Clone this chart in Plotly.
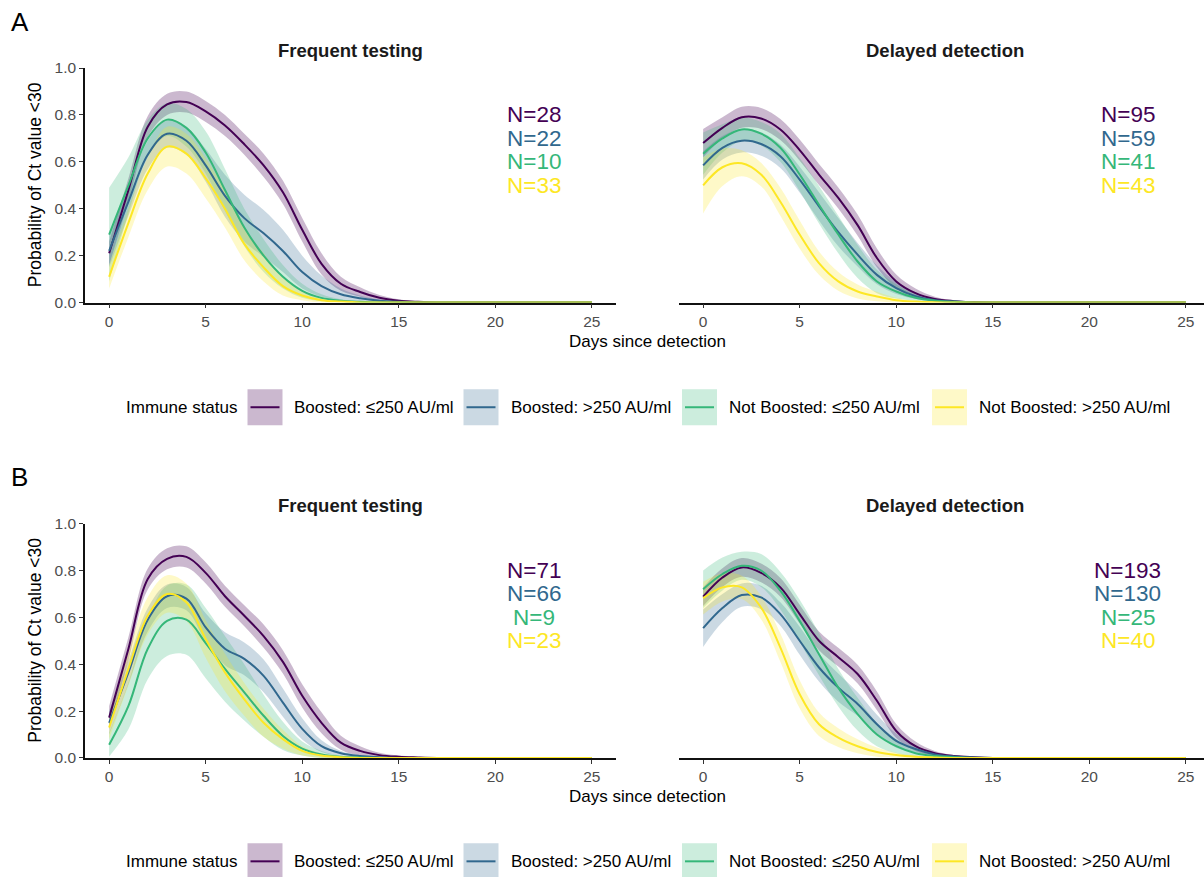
import plotly.graph_objects as go

W, H = 1204, 877
FONT = "Liberation Sans, Arial, Helvetica, sans-serif"

days = list(range(26))
groups = ["Boosted: ≤250 AU/ml", "Boosted: >250 AU/ml",
          "Not Boosted: ≤250 AU/ml", "Not Boosted: >250 AU/ml"]
colors = ["#440154", "#31688E", "#35B779", "#FDE725"]
fills = ["rgba(68,1,84,0.28)", "rgba(49,104,142,0.25)",
         "rgba(53,183,121,0.25)", "rgba(253,231,37,0.25)"]
panel_titles = ["Frequent testing", "Delayed detection"]
x_ticks = [0, 5, 10, 15, 20, 25]
y_ticks = [0.0, 0.2, 0.4, 0.6, 0.8, 1.0]


def pad(v):
    return v + [0.0] * (len(days) - len(v))


# ---------- Panel A, Frequent testing ----------
a_freq_b_low = pad([0.21, 0.48, 0.75, 0.845, 0.855, 0.815, 0.755, 0.675, 0.585, 0.47, 0.31, 0.165, 0.08, 0.045, 0.02, 0.008, 0.003])
a_freq_b_low_hw = pad([0.05, 0.05, 0.045, 0.045, 0.045, 0.045, 0.045, 0.045, 0.05, 0.05, 0.05, 0.045, 0.03, 0.02, 0.012, 0.006, 0.003])
a_freq_b_high = pad([0.22, 0.43, 0.63, 0.72, 0.69, 0.585, 0.455, 0.36, 0.295, 0.22, 0.13, 0.07, 0.035, 0.018, 0.008, 0.003])
a_freq_b_high_hw = pad([0.07, 0.06, 0.06, 0.06, 0.06, 0.07, 0.09, 0.1, 0.1, 0.09, 0.07, 0.045, 0.025, 0.012, 0.005, 0.002])
a_freq_nb_low = pad([0.29, 0.50, 0.70, 0.78, 0.745, 0.64, 0.48, 0.32, 0.20, 0.11, 0.05, 0.02, 0.008, 0.003])
a_freq_nb_low_hw = pad([0.2, 0.12, 0.08, 0.07, 0.08, 0.09, 0.09, 0.08, 0.07, 0.05, 0.03, 0.015, 0.006, 0.002])
a_freq_nb_high = pad([0.11, 0.34, 0.55, 0.665, 0.635, 0.53, 0.40, 0.25, 0.15, 0.07, 0.03, 0.01, 0.004])
a_freq_nb_high_hw = pad([0.05, 0.06, 0.07, 0.085, 0.085, 0.085, 0.08, 0.07, 0.06, 0.04, 0.02, 0.01, 0.004])

# ---------- Panel A, Delayed detection ----------
a_del_b_low = pad([0.68, 0.745, 0.79, 0.785, 0.738, 0.65, 0.546, 0.446, 0.33, 0.19, 0.09, 0.04, 0.015, 0.006, 0.002])
a_del_b_low_hw = pad([0.06, 0.045, 0.045, 0.045, 0.045, 0.045, 0.045, 0.045, 0.045, 0.04, 0.03, 0.02, 0.01, 0.004, 0.002])
a_del_b_high = pad([0.585, 0.66, 0.69, 0.676, 0.624, 0.524, 0.41, 0.30, 0.204, 0.118, 0.061, 0.027, 0.01, 0.004])
a_del_b_high_hw = pad([0.06, 0.05, 0.05, 0.05, 0.05, 0.055, 0.06, 0.06, 0.05, 0.04, 0.025, 0.012, 0.005, 0.002])
a_del_nb_low = pad([0.635, 0.70, 0.738, 0.72, 0.66, 0.546, 0.417, 0.29, 0.175, 0.09, 0.047, 0.02, 0.008, 0.003])
a_del_nb_low_hw = pad([0.09, 0.06, 0.05, 0.05, 0.06, 0.07, 0.08, 0.08, 0.07, 0.05, 0.03, 0.012, 0.005, 0.002])
a_del_nb_high = pad([0.50, 0.577, 0.594, 0.546, 0.43, 0.29, 0.168, 0.09, 0.047, 0.026, 0.01, 0.004, 0.001])
a_del_nb_high_hw = pad([0.12, 0.08, 0.055, 0.05, 0.06, 0.06, 0.05, 0.04, 0.03, 0.02, 0.01, 0.004, 0.001])

# ---------- Panel B, Frequent testing ----------
b_freq_b_low = pad([0.172, 0.466, 0.764, 0.85, 0.858, 0.79, 0.69, 0.607, 0.52, 0.41, 0.265, 0.15, 0.065, 0.03, 0.012, 0.005, 0.002])
b_freq_b_low_hw = pad([0.05, 0.05, 0.045, 0.045, 0.045, 0.045, 0.045, 0.045, 0.05, 0.05, 0.05, 0.045, 0.03, 0.02, 0.01, 0.005, 0.002])
b_freq_b_high = pad([0.15, 0.365, 0.59, 0.69, 0.68, 0.557, 0.466, 0.423, 0.35, 0.236, 0.124, 0.05, 0.02, 0.008, 0.003])
b_freq_b_high_hw = pad([0.05, 0.05, 0.05, 0.05, 0.05, 0.06, 0.07, 0.07, 0.07, 0.06, 0.045, 0.025, 0.01, 0.004, 0.002])
b_freq_nb_low = pad([0.056, 0.222, 0.466, 0.585, 0.59, 0.49, 0.38, 0.28, 0.18, 0.094, 0.04, 0.015, 0.005, 0.002])
b_freq_nb_low_hw = pad([0.05, 0.1, 0.13, 0.15, 0.15, 0.15, 0.14, 0.12, 0.09, 0.06, 0.03, 0.015, 0.005, 0.002])
b_freq_nb_high = pad([0.13, 0.38, 0.607, 0.70, 0.664, 0.508, 0.365, 0.25, 0.15, 0.08, 0.03, 0.01, 0.003])
b_freq_nb_high_hw = pad([0.05, 0.07, 0.08, 0.08, 0.08, 0.08, 0.08, 0.07, 0.06, 0.04, 0.02, 0.01, 0.003])

# ---------- Panel B, Delayed detection ----------
b_del_b_low = pad([0.688, 0.77, 0.813, 0.79, 0.728, 0.614, 0.50, 0.43, 0.358, 0.244, 0.115, 0.05, 0.02, 0.008, 0.003])
b_del_b_low_hw = pad([0.04, 0.04, 0.04, 0.04, 0.04, 0.04, 0.04, 0.04, 0.04, 0.04, 0.03, 0.02, 0.01, 0.004, 0.002])
b_del_b_high = pad([0.554, 0.64, 0.695, 0.685, 0.614, 0.50, 0.386, 0.30, 0.23, 0.144, 0.073, 0.038, 0.015, 0.006, 0.002])
b_del_b_high_hw = pad([0.08, 0.06, 0.05, 0.05, 0.05, 0.06, 0.06, 0.06, 0.05, 0.04, 0.03, 0.015, 0.006, 0.003, 0.001])
b_del_nb_low = pad([0.72, 0.785, 0.82, 0.80, 0.714, 0.585, 0.443, 0.30, 0.187, 0.10, 0.05, 0.02, 0.008, 0.003])
b_del_nb_low_hw = pad([0.08, 0.07, 0.06, 0.07, 0.08, 0.09, 0.09, 0.08, 0.07, 0.05, 0.03, 0.015, 0.005, 0.002])
b_del_nb_high = pad([0.682, 0.728, 0.728, 0.642, 0.471, 0.272, 0.144, 0.087, 0.05, 0.025, 0.012, 0.005, 0.002])
b_del_nb_high_hw = pad([0.07, 0.06, 0.05, 0.05, 0.06, 0.06, 0.05, 0.04, 0.03, 0.02, 0.01, 0.005, 0.002])

n_a_freq = [28, 22, 10, 33]
n_a_del = [95, 59, 41, 43]
n_b_freq = [71, 66, 9, 23]
n_b_del = [193, 130, 25, 40]

panels = [
    ("", [a_freq_b_low, a_freq_b_high, a_freq_nb_low, a_freq_nb_high],
     [a_freq_b_low_hw, a_freq_b_high_hw, a_freq_nb_low_hw, a_freq_nb_high_hw], n_a_freq),
    ("2", [a_del_b_low, a_del_b_high, a_del_nb_low, a_del_nb_high],
     [a_del_b_low_hw, a_del_b_high_hw, a_del_nb_low_hw, a_del_nb_high_hw], n_a_del),
    ("3", [b_freq_b_low, b_freq_b_high, b_freq_nb_low, b_freq_nb_high],
     [b_freq_b_low_hw, b_freq_b_high_hw, b_freq_nb_low_hw, b_freq_nb_high_hw], n_b_freq),
    ("4", [b_del_b_low, b_del_b_high, b_del_nb_low, b_del_nb_high],
     [b_del_b_low_hw, b_del_b_high_hw, b_del_nb_low_hw, b_del_nb_high_hw], n_b_del),
]

# vertical calibration of the rendered page (screen y = Y0 + YS * figure y)
Y0, YS = 7.9, 0.9815


def fx(p):
    return p / W


def fy(p):
    return 1 - ((p - Y0) / YS) / H


fig = go.Figure()

for suffix, centres, hws, ns in panels:
    xa, ya = "x" + suffix, "y" + suffix
    for i in range(4):
        lo = [max(c - h, 0.0) for c, h in zip(centres[i], hws[i])]
        hi = [min(c + h, 1.0) for c, h in zip(centres[i], hws[i])]
        fig.add_trace(go.Scatter(x=days, y=lo, xaxis=xa, yaxis=ya, mode="lines",
                                 line=dict(width=0, shape="spline", smoothing=1),
                                 showlegend=False, hoverinfo="skip"))
        fig.add_trace(go.Scatter(x=days, y=hi, xaxis=xa, yaxis=ya, mode="lines",
                                 line=dict(width=0, shape="spline", smoothing=1),
                                 fill="tonexty", fillcolor=fills[i],
                                 showlegend=False, hoverinfo="skip"))
    for i in range(4):
        fig.add_trace(go.Scatter(x=days, y=centres[i], xaxis=xa, yaxis=ya, mode="lines",
                                 line=dict(width=2, color=colors[i], shape="spline", smoothing=1),
                                 name=groups[i], showlegend=False))
    for i in range(4):
        fig.add_annotation(x=22, y=0.8 - 0.1 * i, xref=xa, yref=ya,
                           text=f"N={ns[i]}", showarrow=False,
                           font=dict(size=22.5, color=colors[i], family=FONT),
                           xanchor="center", yanchor="middle")

left_px = (85, 616)
right_px = (679, 1210)
rows = {"A": (67, 301.7), "B": (523, 757.5)}
px_per_day = (left_px[1] - left_px[0]) / 27.5

axis_common = dict(showgrid=False, zeroline=False, showline=True, linecolor="#111111",
                   linewidth=1.6, ticks="outside", ticklen=4, tickwidth=1.2,
                   tickcolor="#333333", tickfont=dict(size=15.5, color="#4d4d4d", family=FONT))

layout_axes = {}
for suffix, row, side in [("", "A", "L"), ("2", "A", "R"), ("3", "B", "L"), ("4", "B", "R")]:
    top, bot = rows[row]
    ydom = [fy(bot), fy(top)]
    if side == "L":
        xdom = [fx(left_px[0]), fx(left_px[1])]
        xr = [-1.25, 26.25]
    else:
        right_end = min(right_px[1], W)
        xdom = [fx(right_px[0]), fx(right_end)]
        xr = [-1.25, (right_end - right_px[0]) / px_per_day - 1.25]
    layout_axes["xaxis" + suffix] = dict(axis_common, domain=xdom, range=xr, tickvals=x_ticks,
                                         anchor="y" + suffix)
    if side == "L":
        layout_axes["yaxis" + suffix] = dict(axis_common, domain=ydom, range=[0, 1],
                                             tickvals=y_ticks,
                                             ticktext=[f"{v:.1f}" for v in y_ticks],
                                             anchor="x" + suffix)
    else:
        layout_axes["yaxis" + suffix] = dict(domain=ydom, range=[0, 1], anchor="x" + suffix,
                                             showline=False, showticklabels=False,
                                             showgrid=False, zeroline=False, ticks="")

fig.update_layout(**layout_axes)

annos = []
annos.append(dict(x=fx(9), y=fy(21), text="A", font=dict(size=26, color="black", family=FONT)))
annos.append(dict(x=fx(9), y=fy(476), text="B", font=dict(size=26, color="black", family=FONT)))
for row, (top, bot) in rows.items():
    for t, cx in zip(panel_titles, [350.5, 944.5]):
        annos.append(dict(x=fx(cx), y=fy(top - 18), text=f"<b>{t}</b>", xanchor="center",
                          font=dict(size=18.5, color="#1a1a1a", family=FONT)))
    annos.append(dict(x=fx(35), y=fy((top + bot) / 2), text="Probability of Ct value <30",
                      textangle=-90, xanchor="center",
                      font=dict(size=17.5, color="black", family=FONT)))
    annos.append(dict(x=fx(647), y=fy(bot + 39), text="Days since detection", xanchor="center",
                      font=dict(size=17, color="black", family=FONT)))

legend_rows = {"A": 406.5, "B": 861}
box_x = [247.5, 463.5, 682, 932]
text_x = [292, 508.5, 727.5, 977]
shapes = []
for row, cy in legend_rows.items():
    annos.append(dict(x=fx(123.5), y=fy(cy), text="Immune status", xanchor="left",
                      font=dict(size=17, color="black", family=FONT)))
    for i in range(4):
        x0 = box_x[i]
        shapes.append(dict(type="rect", xref="paper", yref="paper",
                           x0=fx(x0), x1=fx(x0 + 35), y0=fy(cy + 18), y1=fy(cy - 18),
                           fillcolor=fills[i], line=dict(width=0), layer="above"))
        shapes.append(dict(type="line", xref="paper", yref="paper",
                           x0=fx(x0 + 3), x1=fx(x0 + 32), y0=fy(cy), y1=fy(cy),
                           line=dict(color=colors[i], width=2), layer="above"))
        annos.append(dict(x=fx(text_x[i]), y=fy(cy), text=groups[i], xanchor="left",
                          font=dict(size=17, color="black", family=FONT)))

for a in annos:
    a.setdefault("xref", "paper")
    a.setdefault("yref", "paper")
    a.setdefault("showarrow", False)
    a.setdefault("xanchor", "left")
    a.setdefault("yanchor", "middle")
    fig.add_annotation(**a)

fig.update_layout(width=W, height=H, margin=dict(l=0, r=0, t=0, b=0),
                  paper_bgcolor="white", plot_bgcolor="white", shapes=shapes,
                  showlegend=False, font=dict(family=FONT))

fig.write_html("out.html", config={"displayModeBar": False},
               post_script="document.body.style.margin='0';document.body.style.overflow='hidden';")
